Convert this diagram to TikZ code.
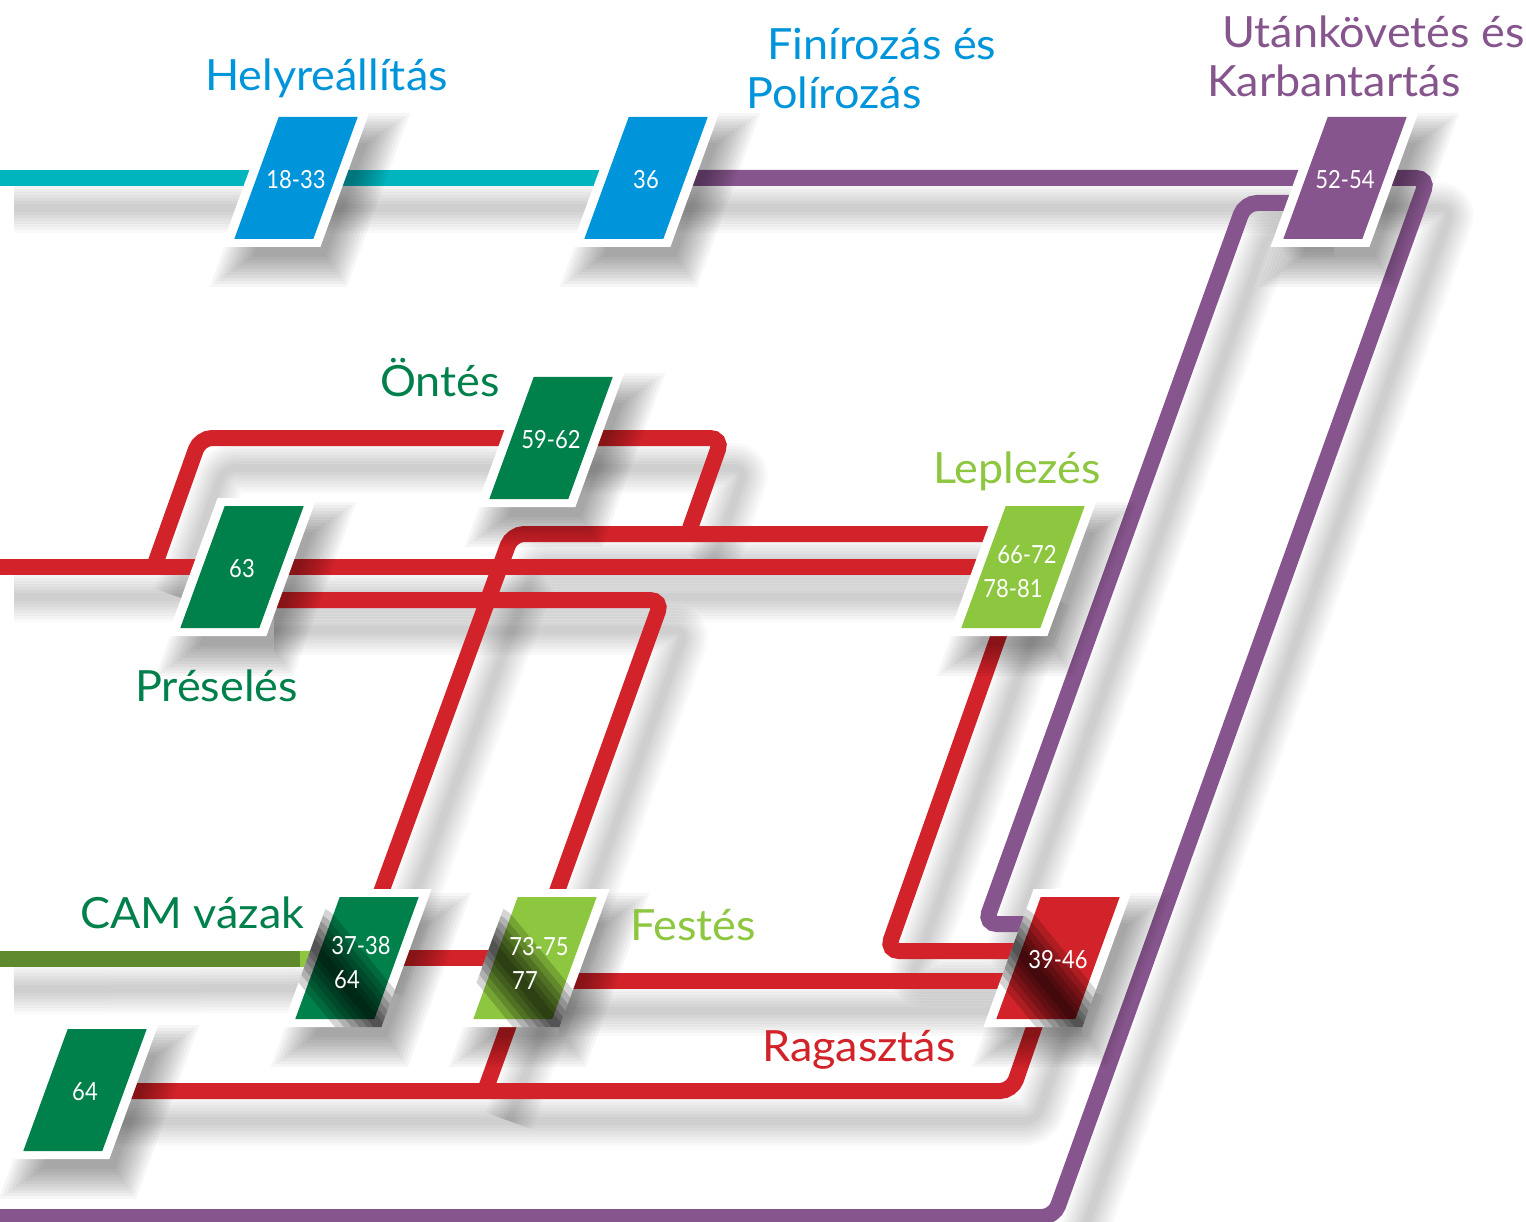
\documentclass[tikz,border=0pt]{standalone}
\usepackage{fontspec}
\setmainfont[FakeStretch=1.045]{Lato}
\newfontfamily\numfont[FakeStretch=0.88]{Lato}
\definecolor{cblue}{HTML}{0095DA}
\definecolor{cteal}{HTML}{00B5BE}
\definecolor{cpurple}{HTML}{87558D}
\definecolor{cdgreen}{HTML}{00804B}
\definecolor{clgreen}{HTML}{8DC63F}
\definecolor{cred}{HTML}{D2232A}
\definecolor{colive}{HTML}{5E8A2D}
\tikzset{
  route/.style={line width=16pt, rounded corners=12pt},
  lbl/.style={anchor=base west, inner sep=0pt, font=\fontsize{43}{48}\selectfont},
  numlbl/.style={text=white, inner sep=0pt, align=center, yshift=-2pt, font=\numfont\fontsize{25}{34}\selectfont},
  twoline/.style={xshift=4pt, yshift=-3pt},
}
\newcommand\pg[2]{({-(#2)+0.364*(#1)},{-(#1)}) -- ({(#2)+0.364*(#1)},{-(#1)}) -- ({(#2)-0.364*(#1)},{#1}) -- ({-(#2)-0.364*(#1)},{#1}) -- cycle}
\newcommand\lshadow[1]{\foreach \lw in {50,44,38,32,26,20,14,8}{\draw[black,opacity=0.022,line width=\lw pt,rounded corners=12pt,line join=round,transform canvas={shift={(24,30)}}] #1;}}
\newcommand\boxshadow[1]{\begin{scope}[shift={(#1)}]\foreach \d in {-12,-9,...,18}{\fill[black,opacity=0.037,shift={(14,22)}] \pg{69+\d}{49.5+1.064*\d};}\end{scope}}
\newcommand\pbox[2]{\begin{scope}[shift={(#1)}]\fill[white] \pg{69}{49.5}; \fill[#2] \pg{61}{39.5};\end{scope}}
\newcommand\darkband[1]{\begin{scope}[shift={(#1)}]\clip \pg{69}{49.5};\foreach \lw in {70,56,44,32,20,10}{\draw[black,opacity=0.17,line width=\lw pt,line cap=round] (-48,-18) -- (28,75);}\end{scope}}
\begin{document}
\begin{tikzpicture}[x=1pt,y=-1pt]
\useasboundingbox (0,0) rectangle (1526,1222);
\clip (0,0) rectangle (1526,1222);
\fill[white] (0,0) rectangle (1526,1222);
% box centres
\coordinate (b1833) at (296,178);
\coordinate (b36) at (646,178);
\coordinate (b5254) at (1345,178);
\coordinate (b5962) at (551,438);
\coordinate (b63) at (242,567);
\coordinate (b6672) at (1023,567);
\coordinate (b3738) at (357,958);
\coordinate (b7375) at (535,958);
\coordinate (b3946) at (1058,958);
\coordinate (b64) at (85,1090);
% route corners
\coordinate (tealL) at (-10,178);
\coordinate (pO1) at (1428,178);
\coordinate (pO2) at (1054,1217);
\coordinate (pO3) at (-10,1217);
\coordinate (pI0) at (1310,203);
\coordinate (pI1) at (1245,203);
\coordinate (pI2) at (985,924);
\coordinate (pI3) at (1058,924);
\coordinate (rA0) at (154,567);
\coordinate (rA1) at (200,438);
\coordinate (rA2) at (722,438);
\coordinate (rA3) at (688,534);
\coordinate (rB1) at (512,534);
\coordinate (rB2) at (1015,534);
\coordinate (rCL) at (-10,567);
\coordinate (rD0) at (250,600);
\coordinate (rD1) at (662,600);
\coordinate (rD2) at (485,1091);
\coordinate (rE1) at (887,951);
\coordinate (rE2) at (1058,951);
\coordinate (rF0) at (535,981);
\coordinate (rF1) at (1058,981);
\coordinate (rH0) at (40,1091);
\coordinate (rH1) at (1012,1091);
\coordinate (gL) at (-10,959);
\coordinate (gM) at (300,959);
% route shadows
\lshadow{(tealL) -- (b36)}
\lshadow{(b36) -- (pO1) -- (pO2) -- (pO3)}
\lshadow{(pI0) -- (pI1) -- (pI2) -- (pI3)}
\lshadow{(rA0) -- (rA1) -- (rA2) -- (rA3)}
\lshadow{(b3738) -- (rB1) -- (rB2)}
\lshadow{(rCL) -- (b6672)}
\lshadow{(rD0) -- (rD1) -- (rD2)}
\lshadow{(b6672) -- (rE1) -- (rE2)}
\lshadow{(rF0) -- (rF1)}
\lshadow{(rH0) -- (rH1) -- (b3946)}
\lshadow{(gL) -- (b3738)}
% routes
\draw[route, cteal] (tealL) -- (b36);
\draw[route, cpurple] (b36) -- (pO1) -- (pO2) -- (pO3);
\draw[route, cpurple] (pI0) -- (pI1) -- (pI2) -- (pI3);
\draw[route, cred] (rA0) -- (rA1) -- (rA2) -- (rA3);
\draw[route, cred] (b3738) -- (rB1) -- (rB2);
\draw[route, cred] (rCL) -- (b6672);
\draw[route, cred] (rD0) -- (rD1) -- (rD2);
\draw[route, cred] (b6672) -- (rE1) -- (rE2);
\draw[route, cred] (rF0) -- (rF1);
\draw[route, cred] (b3738) -- (b7375);
\draw[route, cred] (rH0) -- (rH1) -- (b3946);
\draw[route, colive] (gL) -- (gM);
\draw[route, clgreen] (gM) -- (b3738);
% box shadows
\boxshadow{b1833}\boxshadow{b36}\boxshadow{b5254}\boxshadow{b5962}\boxshadow{b63}
\boxshadow{b6672}\boxshadow{b3738}\boxshadow{b7375}\boxshadow{b3946}\boxshadow{b64}
% boxes
\pbox{b1833}{cblue}
\pbox{b36}{cblue}
\pbox{b5254}{cpurple}
\pbox{b5962}{cdgreen}
\pbox{b63}{cdgreen}
\pbox{b6672}{clgreen}
\pbox{b3738}{cdgreen}
\pbox{b7375}{clgreen}
\pbox{b3946}{cred}
\pbox{b64}{cdgreen}
\darkband{b3738}\darkband{b7375}\darkband{b3946}
% box numbers
\node[numlbl] (n1833) at (b1833) {18-33};
\node[numlbl] (n36) at (b36) {36};
\node[numlbl] (n5254) at (b5254) {52-54};
\node[numlbl] (n5962) at (b5962) {59-62};
\node[numlbl] (n63) at (b63) {63};
\node[numlbl, twoline] (n6672) at (b6672) {66-72\\\hspace*{-28pt}78-81};
\node[numlbl, twoline] (n3738) at (b3738) {37-38\\\hspace*{-28pt}64};
\node[numlbl, twoline] (n7375) at (b7375) {73-75\\\hspace*{-28pt}77};
\node[numlbl] (n3946) at (b3946) {39-46};
\node[numlbl] (n64) at (b64) {64};
% labels
\node[lbl, text=cblue] (tHely) at (205,91) {Helyreállítás};
\node[lbl, text=cblue] (tFin1) at (767,60) {Finírozás és};
\node[lbl, text=cblue] (tFin2) at (746,109) {Polírozás};
\node[lbl, text=cpurple] (tUt1) at (1222,48) {Utánkövetés és};
\node[lbl, text=cpurple] (tUt2) at (1207,97) {Karbantartás};
\node[lbl, text=cdgreen] (tOnt) at (380,396) {Öntés};
\node[lbl, text=clgreen] (tLep) at (933,483) {Leplezés};
\node[lbl, text=cdgreen] (tPres) at (135,701) {Préselés};
\node[lbl, text=cdgreen] (tCAM) at (80,928) {CAM vázak};
\node[lbl, text=clgreen] (tFest) at (630,940) {Festés};
\node[lbl, text=cred] (tRag) at (762,1061) {Ragasztás};
\end{tikzpicture}
\end{document}
